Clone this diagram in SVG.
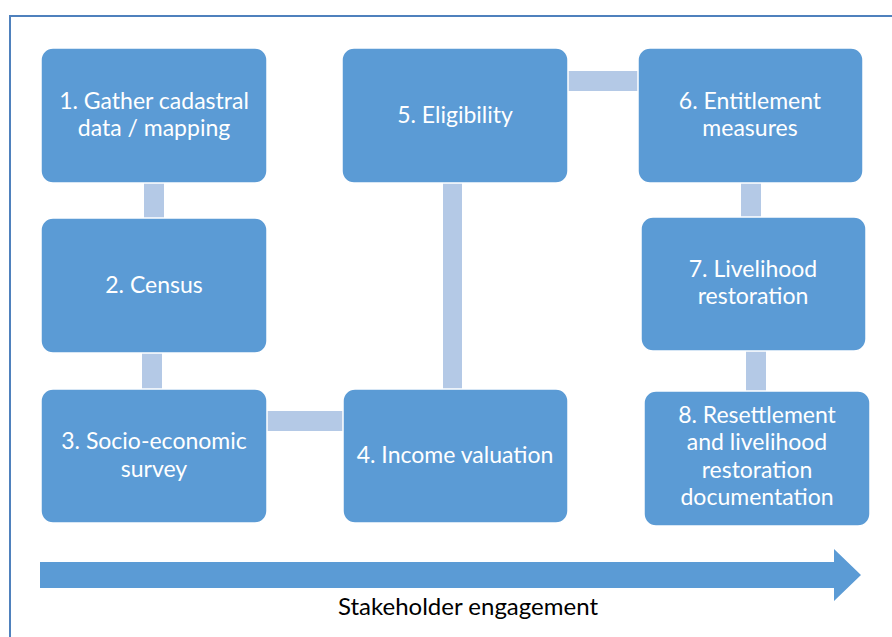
<svg xmlns="http://www.w3.org/2000/svg" width="892" height="637" viewBox="0 0 892 637">
<style>
.box{fill:#5b9bd5;stroke:#ffffff;stroke-width:1.5}
.lbl{fill:#ffffff;font-family:Lato,"Open Sans","Liberation Sans",sans-serif;font-size:23px;text-anchor:middle}
.con{fill:#b4c9e6}
</style>
<rect width="892" height="637" fill="#ffffff"/>
<rect x="10" y="16" width="900" height="640" fill="none" stroke="#4f81bd" stroke-width="2"/>
<g id="connectors">
<rect class="con" x="144" y="183" width="20" height="35"/>
<rect class="con" x="142" y="353" width="20" height="37"/>
<rect class="con" x="267" y="411" width="76" height="20"/>
<rect class="con" x="443" y="183" width="19" height="206"/>
<rect class="con" x="568" y="71" width="70" height="20"/>
<rect class="con" x="741" y="183" width="20" height="34"/>
<rect class="con" x="746" y="351" width="20" height="40"/>
</g>
<g id="n1"><rect class="box" x="41" y="48" width="226" height="135" rx="12"/><text class="lbl" x="154" y="109">1. Gather cadastral</text><text class="lbl" x="154" y="136">data / mapping</text></g>
<g id="n2"><rect class="box" x="41" y="218" width="226" height="135" rx="12"/><text class="lbl" x="154" y="293">2. Census</text></g>
<g id="n3"><rect class="box" x="41" y="389" width="226" height="134" rx="12"/><text class="lbl" x="154" y="449">3. Socio-economic</text><text class="lbl" x="154" y="477">survey</text></g>
<g id="n4"><rect class="box" x="343" y="389" width="225" height="134" rx="12"/><text class="lbl" x="455" y="463">4. Income valuation</text></g>
<g id="n5"><rect class="box" x="342" y="48" width="226" height="135" rx="12"/><text class="lbl" x="455" y="123">5. Eligibility</text></g>
<g id="n6"><rect class="box" x="638" y="48" width="225" height="135" rx="12"/><text class="lbl" x="750" y="109">6. Entitlement</text><text class="lbl" x="750" y="136">measures</text></g>
<g id="n7"><rect class="box" x="641" y="217" width="225" height="134" rx="12"/><text class="lbl" x="753" y="277">7. Livelihood</text><text class="lbl" x="753" y="304">restoration</text></g>
<g id="n8"><rect class="box" x="644" y="391" width="226" height="135" rx="12"/><text class="lbl" x="757" y="423">8. Resettlement</text><text class="lbl" x="757" y="450">and livelihood</text><text class="lbl" x="757" y="478">restoration</text><text class="lbl" x="757" y="505">documentation</text></g>
<g id="arrow"><polygon points="40,562 834,562 834,549 861,575 834,601 834,588 40,588" fill="#5b9bd5"/><text x="468" y="615" font-family="Lato,'Open Sans','Liberation Sans',sans-serif" font-size="24" text-anchor="middle" fill="#000000">Stakeholder engagement</text></g>
</svg>
